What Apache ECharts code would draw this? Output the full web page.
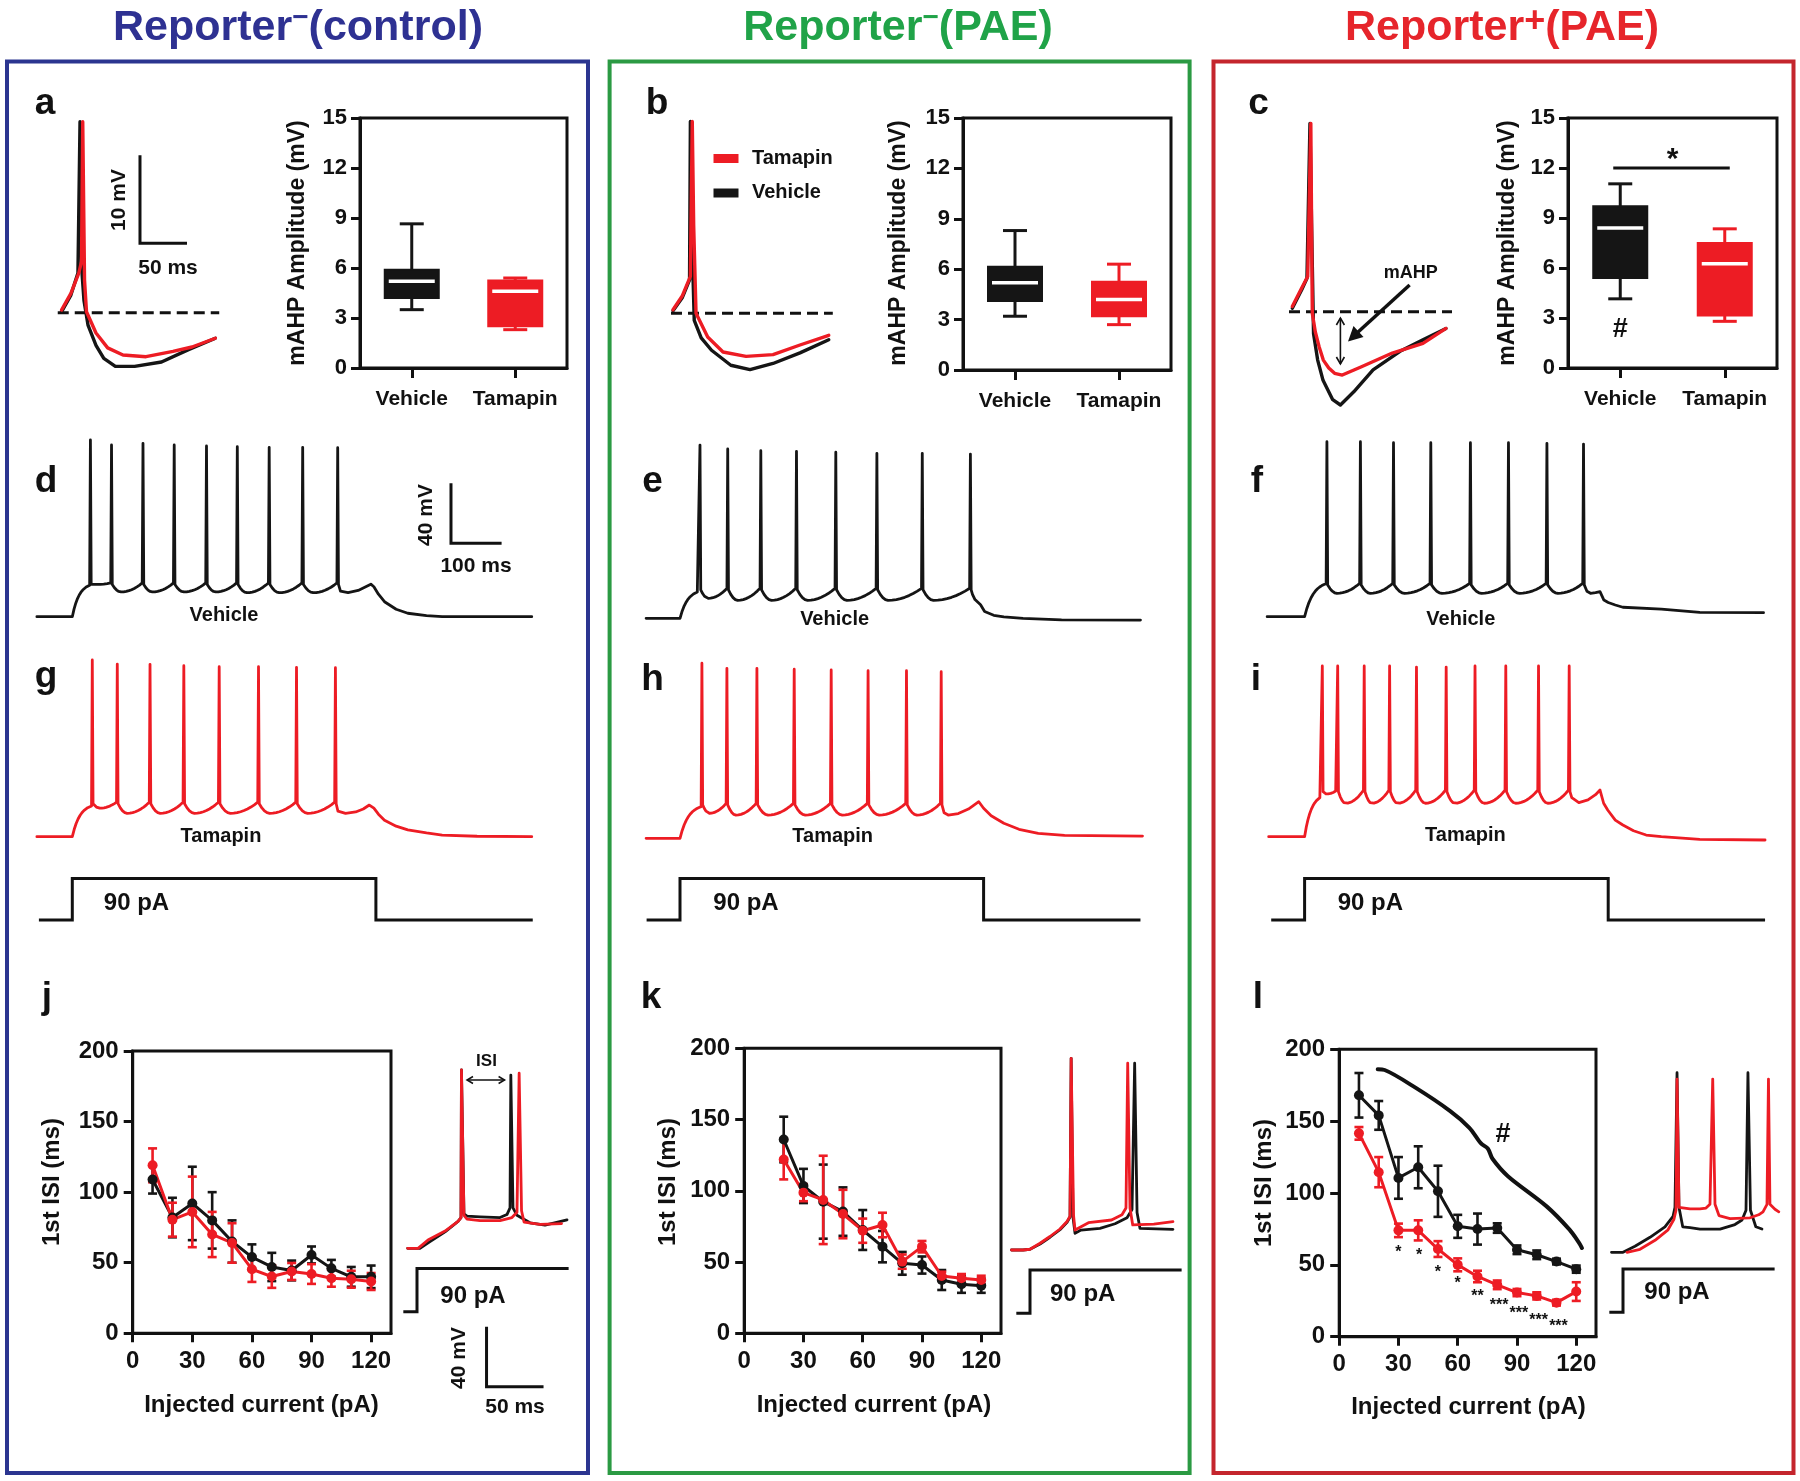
<!DOCTYPE html>
<html><head><meta charset="utf-8">
<script src="https://cdn.jsdelivr.net/npm/echarts@6/dist/echarts.min.js"></script>
<style>html,body{margin:0;padding:0;background:#fff}#c{width:1800px;height:1481px}</style>
</head><body><div id="c"></div>
<script>
// ================= DATA =================
const boxCategories = ['Vehicle', 'Tamapin'];
// [min, Q1, median, Q3, max] mAHP amplitude (mV)
const boxA = [[3.5, 4.2, 5.2, 5.9, 8.65], [2.3, 2.5, 4.6, 5.25, 5.4]];
const boxB = [[3.2, 4.1, 5.2, 6.15, 8.3], [2.7, 3.2, 4.2, 5.25, 6.3]];
const boxC = [[4.15, 5.4, 8.4, 9.7, 11.05], [2.8, 3.15, 6.25, 7.5, 8.35]];
const boxYTicks = [0, 3, 6, 9, 12, 15];
const sigBarC = 12, sigStarC = 13, hashC = 2.3;

// 1st ISI vs injected current
const isiTicks = [0, 30, 60, 90, 120];
const currentsJ = [10, 20, 30, 40, 50, 60, 70, 80, 90, 100, 110, 120];
const jVehicle = [109, 82, 92, 80, 65, 54, 47, 44.5, 55.5, 46, 40, 40];
const jVehicleErr = [10, 14, 26, 20, 15, 9, 10, 7, 6, 6, 7, 8];
const jTamapin = [119, 80.5, 86, 70, 64, 45.4, 40.2, 43.8, 42, 39, 38.3, 36.7];
const jTamapinErr = [12, 12, 25, 16, 14, 9, 8, 6, 7, 6, 6, 6];

const currentsK = [20, 30, 40, 50, 60, 70, 80, 90, 100, 110, 120];
const kVehicle = [136, 103.4, 92.4, 85.4, 72.5, 60.8, 49.1, 47.9, 37.4, 34.4, 33.4];
const kVehicleErr = [16, 12, 26, 17, 14, 11, 8, 6, 7, 6, 5];
const kTamapin = [122, 98.7, 93.6, 83.7, 72, 76, 50.3, 60.8, 40.2, 38.6, 37.4];
const kTamapinErr = [14, 6, 31, 17, 8.5, 8.6, 5, 4, 3, 3, 3];

const currentsL = [10, 20, 30, 40, 50, 60, 70, 80, 90, 100, 110, 120];
const lVehicle = [168, 154, 110.5, 117.9, 101.2, 76.8, 74.9, 75.6, 60.5, 57, 52.3, 47];
const lVehicleErr = [15.5, 10, 14.5, 14.6, 17.8, 8, 10.8, 3.3, 3, 3, 2, 2.5];
const lTamapin = [141.5, 114.5, 74, 74, 61, 50, 41.9, 36.1, 30.7, 28.4, 23.7, 31.4];
const lTamapinErr = [4.4, 10.5, 4.7, 7, 5.5, 4.5, 4, 3, 2.5, 2.5, 2, 6.5];
const lStars = [[30, 61, '*'], [40.5, 58.9, '*'], [50, 47.7, '*'], [60, 39.6, '*'], [70, 30.7, '**'], [81, 24.4, '***'], [91, 18.6, '***'], [101, 14, '***'], [111, 9.8, '***']];
// hand-drawn bracket linking the Vehicle curves (pA, ms)
const lBracket = [[19.5, 186.1], [23, 185.6], [38.6, 173.3], [56.2, 157], [65.9, 145.4], [71.8, 134.5], [75.3, 130.8], [77.6, 123.8], [85.4, 111.7], [105, 90.7], [116.6, 74.5], [121.5, 65.2], [122.9, 61.7]];

// mAHP example traces (ms, mV)
const traceAVehicle = [[0,-54.9],[10,-53],[17.5,-50.5],[19.7,-33.3],[21.5,-50],[23.9,-53.6],[28.2,-56.4],[36.7,-58.7],[45,-60.2],[57.3,-61.1],[77.8,-61.1],[106.4,-60.6],[135.1,-59.2],[163.7,-57.9]];
const traceATamapin = [[0,-54.7],[10,-52.8],[18.4,-50.5],[21.3,-49.2],[22.6,-33.3],[24.5,-51.3],[26.6,-54.9],[36.7,-57.3],[49.1,-59],[65.4,-59.8],[89.9,-60],[118.6,-59.4],[138.8,-58.9],[163.7,-57.9]];
const traceBVehicle = [[0,-54.7],[10,-53.2],[17.6,-51.2],[18.5,-33.2],[19.8,-45],[22.6,-55.8],[30,-57.8],[41,-59.2],[61.5,-60.9],[81.9,-61.4],[106.4,-60.7],[135.1,-59.5],[165.7,-58]];
const traceBTamapin = [[0,-54.6],[10,-53],[18.5,-50.8],[20.5,-33.2],[22,-45],[24.5,-55],[36.9,-57.7],[53.2,-59.4],[77.7,-59.9],[106.4,-59.7],[135.1,-58.6],[165.7,-57.5]];
const traceCVehicle = [[0,-54.6],[10,-52.5],[15.6,-51.2],[18.8,-33.6],[20.5,-45],[22.6,-57.5],[27,-60.5],[32.7,-62.8],[43,-65],[51.2,-65.6],[65.4,-64.1],[85.9,-61.6],[114.6,-59.5],[139,-58.2],[163.5,-56.9]];
const traceCTamapin = [[0,-54.4],[10,-52.3],[16.4,-51],[19.7,-33.6],[20.5,-45],[21.3,-55.2],[24.5,-57.3],[28.6,-59],[33,-60.5],[38.8,-61.4],[45,-62],[53.2,-62.2],[73.6,-61.25],[106.4,-59.7],[139,-58.6],[163.5,-56.9]];
const mahpBaseline = -55;

// Firing traces (90 pA, 600 ms step): spike times (ms), spike peaks (mV), AHP troughs (mV)
const firingD = {tStart:-70, rest:-60, thrFirst:-39, thr:-37.5,
  spikes:[35.8,77.5,139.7,201.4,265.2,326.1,389.1,455.3,524.5],
  peaks:[57.8,54.5,55.6,54.5,53.8,53.3,52.9,52.9,52.7],
  troughs:[-38.5,-43.5,-43.5,-43.5,-43.5,-44,-44,-44],
  tail:[[530,-43],[545,-44],[565,-42.5],[580,-40],[590,-38.3],[596,-40],[605,-45],[617,-50],[640,-55],[663,-57.7],[700,-59.3],[731,-60],[908,-60]]};
const firingG = {tStart:-70, rest:-60, thrFirst:-39.5, thr:-37,
  spikes:[39.5,88.9,153.6,220.4,290.3,368,443.1,520],
  peaks:[57.8,55.1,54.9,54,53.3,53.3,52.9,52.7],
  troughs:[-41,-44.4,-44.4,-44.4,-44.4,-44.4,-44.4],
  tail:[[525,-43],[540,-44.4],[560,-43.5],[575,-41.5],[587,-38.9],[596,-41],[605,-45],[617,-49],[640,-53],[663,-55.5],[700,-57.5],[731,-58.9],[800,-59.7],[908,-60]]};
const firingE = {tStart:-67, rest:-60, thrFirst:-42, thr:-40,
  spikes:[39.5,94.3,159.7,230.2,307.9,389.1,478.8,573.9],
  peaks:[55.5,52.9,51.7,51.3,50.7,50,50,49.5],
  troughs:[-46.7,-48,-48,-48,-48,-48,-48],
  tail:[[578,-44],[583,-47.5],[594,-51],[602,-55.5],[620,-58],[640,-59],[678,-60],[754,-61],[910,-61.2]]};
const firingH = {tStart:-67, rest:-60, thrFirst:-38.9, thr:-36.7,
  spikes:[43.3,92.7,152,225.7,298.8,371.7,447.6,516.2],
  peaks:[56.7,53.3,53.3,52.7,52.2,51.7,51.7,51.1],
  troughs:[-43.3,-44.5,-44.5,-44.5,-44.5,-44.5,-44.5],
  tail:[[522,-43],[530,-44.5],[550,-43.5],[570,-40.5],[590.5,-35.6],[600,-40],[615,-45],[640,-50],[670,-54],[708,-56.7],[760,-58],[914,-58.5]]};
const firingF = {tStart:-74, rest:-60, thrFirst:-38, thr:-37.8,
  spikes:[44.1,110.3,175.7,249.4,327.7,402.9,478.9,551.2],
  peaks:[56.7,56.7,56,56,56,56,55.6,55.1],
  troughs:[-44.4,-44.4,-44.4,-44.4,-44.4,-44.4,-44.4],
  tail:[[558,-43],[565,-44.4],[575,-44],[583.8,-43.3],[591.5,-48.9],[600,-50.5],[614,-52.2],[629,-53.7],[705,-54.9],[781,-57.1],[907,-57.3]]};
const firingI = {tStart:-71, rest:-60, thrFirst:-33.3, thr:-29,
  spikes:[35,65.4,117.8,168,221.1,279.8,336.8,397.6,462.3,522.9],
  peaks:[53.8,53.8,53.8,53.8,53.1,53.1,53.8,53.8,53.8,53.8],
  troughs:[-31.5,-37.7,-37.7,-37.7,-37.7,-37.7,-37.7,-37.7,-37.7],
  tail:[[528,-34],[542,-37.3],[560,-35.5],[575,-32],[583.8,-28.9],[591,-37.7],[599,-42.2],[614,-48.9],[629,-52.2],[650,-56],[675,-58.9],[705,-60],[781,-61.8],[910,-62.2]]};

// Current step protocol (ms, pA)
const stepTimes = [-66, 0, 0, 600, 600, 910];
const stepAmps = [0, 0, 90, 90, 0, 0];
const insetStepTimes = [-12, 0, 0, 133];
const insetStepAmps = [0, 0, 90, 90];

// ISI example traces (ms, mV)
const insetJVehicle = [[-8.2,-60],[2.6,-60],[11.4,-55.5],[24.6,-49],[36,-42],[38.6,-39.5],[39,58.9],[41.2,-37],[43.9,-38.5],[55.3,-39],[72.8,-39.5],[78.9,-37.5],[81.6,-33],[82.3,55.5],[84.2,-33],[87.7,-38],[99.1,-43],[112.3,-44.5],[131.6,-41]];
const insetJTamapin = [[-8.2,-60],[0.9,-60],[9.6,-54.5],[24.6,-48.5],[36,-42],[38.6,-39.5],[39,58.9],[41.2,-38],[43.9,-40.5],[55.3,-41.5],[72.8,-41.5],[83.3,-39.5],[87.7,-36],[89.6,56.7],[91.7,-35],[93.9,-42.5],[107.9,-44],[126.8,-43.5]];
const insetKVehicle = [[-16.2,-60],[-6.1,-60],[0,-59.5],[8.8,-56],[17.5,-51.5],[26.3,-46.5],[32.5,-41.5],[35.1,-38],[36.1,67.8],[37.7,-38],[39.5,-48.9],[44.7,-46.7],[61.4,-45.6],[74.6,-42.5],[85.1,-38.5],[89.5,-33],[91.8,64.5],[93.9,-35],[96.5,-45.6],[125.4,-46.2]];
const insetKTamapin = [[-16.2,-60],[-6.1,-60],[0,-59.5],[8.8,-55.5],[17.5,-51],[26.3,-46],[32.5,-41],[35.1,-37.5],[36.1,67.8],[38.2,-37],[39.5,-46.7],[51.3,-41.8],[71.5,-40],[80.7,-36.5],[84.2,-32],[85.7,64.5],[87.7,-32],[90.1,-43.3],[108.6,-42.7],[125.4,-41.1]];
const insetLVehicle = [[-10.1,-60],[0,-60],[10.5,-56],[23.7,-50],[36.8,-43],[43.9,-36],[45.6,-30],[47.4,59.7],[49.1,-30],[52.4,-43],[58.8,-43.5],[67.5,-44.5],[85.1,-44.5],[98.2,-41.5],[104.4,-38.5],[107.9,-32],[109.6,59.7],[111.8,-32],[116.5,-43],[121.9,-44.5]];
const insetLTamapin = [[3.5,-60],[14.9,-58],[28.1,-52],[39.5,-45],[44.7,-38],[46.5,-32],[47.4,55.5],[49.1,-30],[50.7,-31],[58.8,-31],[67.5,-31],[72.8,-30.5],[76.3,-28],[78.7,55.5],[80.7,-28],[84.2,-35.5],[93.9,-37.5],[111.4,-37],[119,-35],[122.8,-33],[126.3,-28],[127.6,55.5],[128.9,-28],[133.3,-31.3],[136.7,-33]];

// scale bars: [ms, mV]
const scaleBarMahp = [50, 10];
const scaleBarFiring = [100, 40];
const scaleBarInset = [50, 40];

// ================= RENDERING =================
const FONT = "'Liberation Sans', Arial, Helvetica, sans-serif";
const NARROW = "'Liberation Sans Narrow', 'Arial Narrow', 'Liberation Sans', sans-serif";
const RED = '#ed1c24', BLK = '#151515';
const BLUE = '#2e3192', GREEN = '#20a348', TRED = '#e6252b';
const BLUE_B = '#2b3590', GREEN_B = '#2b9a43', RED_B = '#c4252d';

const chart = echarts.init(document.getElementById('c'), null, {width: 1800, height: 1481, renderer: 'canvas'});
const grid = [], xAxis = [], yAxis = [], series = [], graphic = [];

function addGrid(rect, xa, ya) {
  const i = grid.length;
  grid.push(Object.assign({containLabel: false, outerBoundsMode: 'none', show: false}, rect));
  xAxis.push(Object.assign({gridIndex: i}, xa));
  yAxis.push(Object.assign({gridIndex: i}, ya));
  return i;
}
const hid = (min, max) => ({type: 'value', min, max, show: false, splitLine: {show: false}});
function traceGrid(x0, pxX, tMin, tMax, yRef, vRef, pxY, vMin, vMax) {
  return addGrid({left: x0 + tMin * pxX, top: yRef - (vMax - vRef) * pxY, width: (tMax - tMin) * pxX, height: (vMax - vMin) * pxY},
    hid(tMin, tMax), hid(vMin, vMax));
}
function line(gi, data, color, width, extra) {
  series.push(Object.assign({type: 'line', xAxisIndex: gi, yAxisIndex: gi, data, symbol: 'none', showSymbol: false,
    lineStyle: {color, width, join: 'round', cap: 'round'}, itemStyle: {color}, clip: false, silent: true, animation: false, z: 3}, extra || {}));
}
function textSeries(gi, items, font, color, dy) {
  series.push({type: 'custom', xAxisIndex: gi, yAxisIndex: gi, data: items.map(d => [d[0], d[1]]), clip: false, silent: true, animation: false, z: 6,
    renderItem: (params, api) => {
      const p = api.coord([api.value(0), api.value(1)]);
      const it = items[params.dataIndex];
      return {type: 'text', x: p[0], y: p[1] + (dy || 0), style: {text: it[2], fill: color, font, align: 'center', verticalAlign: 'middle'}};
    }});
}

// ---- firing trace builder from spike times / peaks / troughs ----
function buildFiring(p) {
  const pts = [[p.tStart, p.rest], [0, p.rest]];
  const t1 = p.spikes[0];
  for (let k = 1; k <= 10; k++) {
    const u = k / 10;
    pts.push([(t1 - 1.5) * u, p.rest + (p.thrFirst - p.rest) * (1 - Math.exp(-2.5 * u)) / (1 - Math.exp(-2.5))]);
  }
  for (let i = 0; i < p.spikes.length; i++) {
    const tA = p.spikes[i];
    pts.push([tA, p.peaks[i]]);
    pts.push([tA + 1.5, p.thr - 1]);
    if (i < p.spikes.length - 1) {
      const tB = p.spikes[i + 1], tr = p.troughs[i], d = tB - tA;
      const tMin = tA + Math.min(0.3 * d, 22);
      for (let k = 1; k <= 4; k++) {
        const u = k / 4;
        pts.push([tA + 1.5 + (tMin - tA - 1.5) * u, (p.thr - 1) + (tr - (p.thr - 1)) * (1 - (1 - u) * (1 - u))]);
      }
      for (let k = 1; k <= 8; k++) {
        const u = k / 8;
        pts.push([tMin + (tB - 1.5 - tMin) * u, tr + (p.thr - tr) * u * u]);
      }
    } else {
      p.tail.forEach(q => pts.push(q));
    }
  }
  return pts;
}

// ---- box plots ----
function boxGrid(rect) {
  return addGrid(Object.assign({show: true, borderColor: '#111', borderWidth: 3}, rect),
    {type: 'category', data: boxCategories, boundaryGap: true,
      axisLine: {show: true, onZero: false, lineStyle: {color: '#111', width: 3}},
      axisTick: {show: true, alignWithLabel: true, interval: 0, length: 10, lineStyle: {color: '#111', width: 3}},
      axisLabel: {interval: 0, hideOverlap: false, margin: 21, color: '#111', fontFamily: FONT, fontWeight: 'bold', fontSize: 21},
      splitLine: {show: false}},
    {type: 'value', min: boxYTicks[0], max: boxYTicks[boxYTicks.length - 1], interval: 3,
      axisLine: {show: true, onZero: false, lineStyle: {color: '#111', width: 3}},
      axisTick: {show: true, length: 9, lineStyle: {color: '#111', width: 3}},
      axisLabel: {margin: 13, color: '#111', fontFamily: FONT, fontWeight: 'bold', fontSize: 22},
      splitLine: {show: false}});
}
function boxSeries(gi, boxes) {
  const colors = [BLK, RED];
  series.push({type: 'custom', xAxisIndex: gi, yAxisIndex: gi, animation: false, silent: true, z: 4, clip: false,
    data: boxes.map((b, i) => [i].concat(b)),
    renderItem: (params, api) => {
      const i = api.value(0), c = colors[params.dataIndex];
      const lo = api.coord([i, api.value(1)]), q1 = api.coord([i, api.value(2)]), md = api.coord([i, api.value(3)]),
        q3 = api.coord([i, api.value(4)]), hi = api.coord([i, api.value(5)]);
      const x = lo[0], bw = 54, cw = 24;
      const st = {stroke: c, lineWidth: 3};
      return {type: 'group', children: [
        {type: 'line', shape: {x1: x, y1: hi[1], x2: x, y2: lo[1]}, style: st},
        {type: 'line', shape: {x1: x - cw / 2, y1: hi[1], x2: x + cw / 2, y2: hi[1]}, style: st},
        {type: 'line', shape: {x1: x - cw / 2, y1: lo[1], x2: x + cw / 2, y2: lo[1]}, style: st},
        {type: 'rect', shape: {x: x - bw / 2, y: q3[1], width: bw, height: q1[1] - q3[1]}, style: {fill: c, stroke: c, lineWidth: 2}},
        {type: 'line', shape: {x1: x - bw / 2 + 4, y1: md[1], x2: x + bw / 2 - 4, y2: md[1]}, style: {stroke: '#fff', lineWidth: 3.5}}
      ]};
    }});
}
const gBoxA = boxGrid({left: 360, top: 118, width: 207, height: 250});
const gBoxB = boxGrid({left: 963, top: 118, width: 208, height: 252});
const gBoxC = boxGrid({left: 1568, top: 118, width: 209, height: 250});
boxSeries(gBoxA, boxA);
boxSeries(gBoxB, boxB);
boxSeries(gBoxC, boxC);
// significance bar + star in c, "#" under Vehicle
series.push({type: 'custom', xAxisIndex: gBoxC, yAxisIndex: gBoxC, data: [[0, sigBarC, sigStarC, hashC]], silent: true, animation: false, clip: false, z: 4,
  renderItem: (params, api) => {
    const a = api.coord([0, api.value(1)]), b = api.coord([1, api.value(1)]);
    const s = api.coord([0, api.value(2)]), h = api.coord([0, api.value(3)]);
    return {type: 'group', children: [
      {type: 'line', shape: {x1: a[0] - 7, y1: a[1], x2: b[0] + 5, y2: b[1]}, style: {stroke: '#111', lineWidth: 3}},
      {type: 'text', x: (a[0] + b[0]) / 2, y: s[1] + 8, style: {text: '*', fill: '#111', font: `bold 30px ${FONT}`, align: 'center', verticalAlign: 'middle'}},
      {type: 'text', x: h[0], y: h[1], style: {text: '#', fill: '#111', font: `bold 27px ${FONT}`, align: 'center', verticalAlign: 'middle'}}
    ]};
  }});

// ---- mAHP example traces ----
const smallGrid = (x0, yRef) => traceGrid(x0, 0.94, -6, 185, yRef, mahpBaseline, 8.8, -70, -30);
const gTA = smallGrid(61.5, 312.7), gTB = smallGrid(673, 313.3), gTC = smallGrid(1292.3, 311.7);
[[gTA, -4, 167.8], [gTB, -2.1, 170], [gTC, -3.5, 169.9]].forEach(([g, t0, t1]) =>
  line(g, [[t0, mahpBaseline], [t1, mahpBaseline]], '#111', 3, {lineStyle: {color: '#111', width: 3, type: [11, 6]}, z: 2}));
line(gTA, traceAVehicle, BLK, 3.4);
line(gTA, traceATamapin, RED, 3.4);
line(gTB, traceBVehicle, BLK, 3.4, {name: 'Vehicle'});
line(gTB, traceBTamapin, RED, 3.4, {name: 'Tamapin'});
line(gTC, traceCVehicle, BLK, 3.4);
line(gTC, traceCTamapin, RED, 3.4);
// scale bar a
line(gTA, [[83.5, -37.1], [83.5, -37.1 - scaleBarMahp[1]], [83.5 + scaleBarMahp[0], -37.1 - scaleBarMahp[1]]], '#111', 3, {lineStyle: {color: '#111', width: 3, cap: 'butt', join: 'miter'}});

// ---- firing traces ----
const colX0 = [72.3, 680, 1304.6];
const firingGrid = (x0, yRef) => traceGrid(x0, 0.506, -80, 920, yRef, -60, 1.5, -70, 65);
const gD = firingGrid(colX0[0], 616.7), gE = firingGrid(colX0[1], 618.3), gF = firingGrid(colX0[2], 616.7);
const gG = firingGrid(colX0[0], 836.7), gH = firingGrid(colX0[1], 838.3), gI = firingGrid(colX0[2], 836.7);
line(gD, buildFiring(firingD), BLK, 2.8);
line(gE, buildFiring(firingE), BLK, 2.8);
line(gF, buildFiring(firingF), BLK, 2.8);
line(gG, buildFiring(firingG), RED, 2.8);
line(gH, buildFiring(firingH), RED, 2.8);
line(gI, buildFiring(firingI), RED, 2.8);
line(gD, [[748.4, 28.9], [748.4, 28.9 - scaleBarFiring[1]], [748.4 + scaleBarFiring[0], 28.9 - scaleBarFiring[1]]], '#111', 3, {lineStyle: {color: '#111', width: 3, cap: 'butt', join: 'miter'}});
// steps
colX0.forEach(x0 => {
  const g = traceGrid(x0, 0.506, -80, 920, 920, 0, 0.46, -10, 100);
  line(g, stepTimes.map((t, i) => [t, stepAmps[i]]), '#111', 3, {lineStyle: {color: '#111', width: 3, cap: 'butt', join: 'miter'}});
});

// ---- ISI plots ----
function isiGrid(rect) {
  const ax = {axisLine: {show: true, onZero: false, lineStyle: {color: '#111', width: 3}},
    splitLine: {show: false}};
  return addGrid(Object.assign({show: true, borderColor: '#111', borderWidth: 3}, rect),
    Object.assign({type: 'value', min: 0, max: 130, interval: 30,
      axisTick: {show: true, length: 9, customValues: isiTicks, lineStyle: {color: '#111', width: 3}},
      axisLabel: {customValues: isiTicks, margin: 16, color: '#111', fontFamily: NARROW, fontWeight: 'bold', fontSize: 24}}, ax),
    Object.assign({type: 'value', min: 0, max: 200, interval: 50,
      axisTick: {show: true, length: 9, lineStyle: {color: '#111', width: 3}},
      axisLabel: {margin: 14, color: '#111', fontFamily: NARROW, fontWeight: 'bold', fontSize: 24}}, ax));
}
function errSeries(gi, xs, vals, errs, color) {
  series.push({type: 'custom', xAxisIndex: gi, yAxisIndex: gi, data: xs.map((x, i) => [x, vals[i], errs[i]]), silent: true, animation: false, clip: false, z: 4,
    renderItem: (params, api) => {
      const x = api.value(0), m = api.value(1), e = api.value(2);
      const a = api.coord([x, m - e]), b = api.coord([x, m + e]), cw = 4.5;
      const st = {stroke: color, lineWidth: 2.6};
      return {type: 'group', children: [
        {type: 'line', shape: {x1: a[0], y1: a[1], x2: b[0], y2: b[1]}, style: st},
        {type: 'line', shape: {x1: a[0] - cw, y1: a[1], x2: a[0] + cw, y2: a[1]}, style: st},
        {type: 'line', shape: {x1: b[0] - cw, y1: b[1], x2: b[0] + cw, y2: b[1]}, style: st}]};
    }});
}
function isiLine(gi, xs, vals, color) {
  series.push({type: 'line', xAxisIndex: gi, yAxisIndex: gi, data: xs.map((x, i) => [x, vals[i]]), symbol: 'circle', symbolSize: 10, showSymbol: true,
    lineStyle: {color, width: 3}, itemStyle: {color}, silent: true, animation: false, z: 5, clip: false});
}
const gJ = isiGrid({left: 132.7, top: 1051, width: 258.3, height: 282.3});
const gK = isiGrid({left: 744.2, top: 1048.3, width: 256.8, height: 285});
const gL = isiGrid({left: 1339.2, top: 1049.3, width: 256.8, height: 287.4});
errSeries(gJ, currentsJ, jVehicle, jVehicleErr, BLK); isiLine(gJ, currentsJ, jVehicle, BLK);
errSeries(gJ, currentsJ, jTamapin, jTamapinErr, RED); isiLine(gJ, currentsJ, jTamapin, RED);
errSeries(gK, currentsK, kVehicle, kVehicleErr, BLK); isiLine(gK, currentsK, kVehicle, BLK);
errSeries(gK, currentsK, kTamapin, kTamapinErr, RED); isiLine(gK, currentsK, kTamapin, RED);
errSeries(gL, currentsL, lVehicle, lVehicleErr, BLK); isiLine(gL, currentsL, lVehicle, BLK);
errSeries(gL, currentsL, lTamapin, lTamapinErr, RED); isiLine(gL, currentsL, lTamapin, RED);
line(gL, lBracket, '#111', 4, {smooth: 0.3, z: 4});
textSeries(gL, lStars, `bold 16px ${FONT}`, '#111', 4);
textSeries(gL, [[82.9, 140.7, '#']], `bold 27px ${FONT}`, '#111', 0);

// ---- ISI example insets ----
const insetX0 = [417, 1030, 1623];
const insetGrid = (x0, yRef) => traceGrid(x0, 1.14, -20, 140, yRef, -60, 1.5, -160, 75);
const gIJ = insetGrid(insetX0[0], 1248.3), gIK = insetGrid(insetX0[1], 1250), gIL = insetGrid(insetX0[2], 1252.3);
line(gIJ, insetJVehicle, BLK, 2.8); line(gIJ, insetJTamapin, RED, 2.8);
line(gIK, insetKVehicle, BLK, 2.8); line(gIK, insetKTamapin, RED, 2.8);
line(gIL, insetLVehicle, BLK, 2.8); line(gIL, insetLTamapin, RED, 2.8);
line(gIJ, [[61, -112.3], [61, -112.3 - scaleBarInset[1]], [61 + scaleBarInset[0], -112.3 - scaleBarInset[1]]], '#111', 3, {lineStyle: {color: '#111', width: 3, cap: 'butt', join: 'miter'}});
[[insetX0[0], 1311.7], [insetX0[1], 1313.3], [insetX0[2], 1312.3]].forEach(([x0, y0]) => {
  const g = traceGrid(x0, 1.14, -20, 140, y0, 0, 0.48, -10, 100);
  line(g, insetStepTimes.map((t, i) => [t, insetStepAmps[i]]), '#111', 3, {lineStyle: {color: '#111', width: 3, cap: 'butt', join: 'miter'}});
});

// ================= GRAPHIC TEXT / FRAMES =================
function T(text, x, y, size, opts) {
  opts = opts || {};
  graphic.push({type: 'text', x, y, rotation: opts.rot || 0, z: 100, silent: true,
    style: {text, fill: opts.color || '#111', font: `bold ${size}px ${opts.family || FONT}`,
      align: opts.align || 'center', verticalAlign: opts.va || 'middle',
      textAlign: opts.align || 'center', textVerticalAlign: opts.va || 'middle'}});
}
// column frames
[[7, BLUE_B, 581], [609.6, GREEN_B, 580], [1213.5, RED_B, 580]].forEach(([x, c, w]) =>
  graphic.push({type: 'rect', z: 1, silent: true, shape: {x, y: 61.5, width: w, height: 1411.5}, style: {fill: 'none', stroke: c, lineWidth: 4}}));
// titles
function title(x, sup, rest, color, supSize, supLH) {
  graphic.push({type: 'text', x, y: 28, z: 100, silent: true, style: {
    text: `{a|Reporter}{s|${sup}}{a|${rest}}`, align: 'center', verticalAlign: 'middle', textAlign: 'center', textVerticalAlign: 'middle',
    rich: {a: {font: `bold 43px ${FONT}`, fill: color, lineHeight: 48},
      s: {font: `bold ${supSize}px ${FONT}`, fill: color, lineHeight: supLH, verticalAlign: 'top'}}}});
}
title(298, '\u2212', '(control)', BLUE, 28, 30);
title(898, '\u2212', '(PAE)', GREEN, 28, 30);
title(1502, '+', '(PAE)', TRED, 36, 18);
// panel letters
[['a', 45, 103.5], ['b', 657, 103.5], ['c', 1258.5, 103.5], ['d', 46, 481.5], ['e', 652.5, 481.5], ['f', 1257, 481.5],
 ['g', 46, 676.5], ['h', 652.5, 680], ['i', 1256, 680], ['j', 47, 998], ['k', 651, 998], ['l', 1258, 998]]
  .forEach(([s, x, y]) => T(s, x, y, 37));
// box plot y titles
[298, 899, 1507.7].forEach(x => T('mAHP Amplitude (mV)', x, 243, 23, {rot: Math.PI / 2}));
// ISI axis titles
[[52, 261.5, 1182, 1405], [668, 874, 1182, 1405], [1264.5, 1468.5, 1183, 1407]].forEach(([yx, xx, yy, xy]) => {
  T('1st ISI (ms)', yx, yy, 24, {rot: Math.PI / 2});
  T('Injected current (pA)', xx, xy, 24);
});
// trace condition labels
[['Vehicle', 224, 615], ['Tamapin', 221, 836.7], ['Vehicle', 834.6, 619.3], ['Tamapin', 832.7, 836], ['Vehicle', 1460.8, 619.3], ['Tamapin', 1465.4, 835]]
  .forEach(([s, x, y]) => T(s, x, y, 20));
// step labels
[[136.5, 903.3], [746, 903.3], [1370.4, 903], [473, 1296.7], [1082.7, 1294], [1677, 1292.7]].forEach(([x, y]) => T('90 pA', x, y, 24));
// scale bar labels
T('10 mV', 119, 200, 21, {rot: Math.PI / 2});
T('50 ms', 168, 268, 21);
T('40 mV', 426, 515, 21, {rot: Math.PI / 2});
T('100 ms', 476, 566.7, 21);
T('40 mV', 459.6, 1358, 21, {rot: Math.PI / 2});
T('50 ms', 515, 1407, 21);
// legend of b
graphic.push({type: 'rect', z: 100, silent: true, shape: {x: 713.5, y: 154, width: 25, height: 9}, style: {fill: RED}});
graphic.push({type: 'rect', z: 100, silent: true, shape: {x: 713.5, y: 188.5, width: 25, height: 9}, style: {fill: BLK}});
T('Tamapin', 752, 158.5, 20, {align: 'left'});
T('Vehicle', 752, 192.5, 20, {align: 'left'});
// mAHP annotation in c
T('mAHP', 1410.8, 273.3, 18);
graphic.push({type: 'line', z: 100, silent: true, shape: {x1: 1409.6, y1: 285, x2: 1357, y2: 333}, style: {stroke: '#111', lineWidth: 3.5}});
graphic.push({type: 'polygon', z: 100, silent: true, shape: {points: [[1348, 341.5], [1363.5, 337], [1353.5, 326]]}, style: {fill: '#111'}});
graphic.push({type: 'line', z: 100, silent: true, shape: {x1: 1340.4, y1: 318, x2: 1340.4, y2: 364}, style: {stroke: '#111', lineWidth: 1.6}});
graphic.push({type: 'polyline', z: 100, silent: true, shape: {points: [[1336.4, 325], [1340.4, 318], [1344.4, 325]]}, style: {stroke: '#111', lineWidth: 1.6, fill: 'none'}});
graphic.push({type: 'polyline', z: 100, silent: true, shape: {points: [[1336.4, 357], [1340.4, 364], [1344.4, 357]]}, style: {stroke: '#111', lineWidth: 1.6, fill: 'none'}});
// ISI annotation in j inset
T('ISI', 486.5, 1061, 17);
graphic.push({type: 'line', z: 100, silent: true, shape: {x1: 467, y1: 1080, x2: 504.6, y2: 1080}, style: {stroke: '#111', lineWidth: 1.5}});
graphic.push({type: 'polyline', z: 100, silent: true, shape: {points: [[473, 1076.5], [467, 1080], [473, 1083.5]]}, style: {stroke: '#111', lineWidth: 1.5, fill: 'none'}});
graphic.push({type: 'polyline', z: 100, silent: true, shape: {points: [[498.6, 1076.5], [504.6, 1080], [498.6, 1083.5]]}, style: {stroke: '#111', lineWidth: 1.5, fill: 'none'}});

chart.setOption({
  animation: false,
  backgroundColor: '#ffffff',
  textStyle: {fontFamily: FONT},
  grid, xAxis, yAxis, series,
  graphic: graphic
});
</script>
</body></html>
